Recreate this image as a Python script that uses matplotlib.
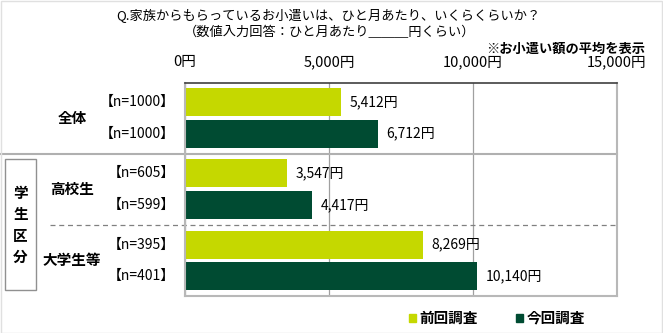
import matplotlib
matplotlib.use("Agg")
import matplotlib.pyplot as plt
import matplotlib.transforms as mtransforms
from matplotlib.patches import Patch, Rectangle
from matplotlib.lines import Line2D

plt.rcParams['font.family'] = ['Noto Sans CJK JP', 'DejaVu Sans']

# data
groups = ["全体", "高校生", "大学生等"]
series = ["前回調査", "今回調査"]
prev_vals = [5412, 3547, 8269]
curr_vals = [6712, 4417, 10140]
prev_n = ["【n=1000】", "【n=605】", "【n=395】"]
curr_n = ["【n=1000】", "【n=599】", "【n=401】"]
xticks = [0, 5000, 10000, 15000]
xtick_labels = ["0円", "5,000円", "10,000円", "15,000円"]

c_prev = "#c5d800"
c_curr = "#004b32"

fig = plt.figure(figsize=(6.63, 3.33), dpi=100)
ax = fig.add_axes([185/663, 1-296/333, 432/663, 213/333])

group_pos = [0, 2.25, 4.5]
h = 0.88
for i, g in enumerate(groups):
    y0 = group_pos[i]
    y1 = y0 + 1
    ax.barh(y0, prev_vals[i], height=h, color=c_prev)
    ax.barh(y1, curr_vals[i], height=h, color=c_curr)
    for y, v in [(y0, prev_vals[i]), (y1, curr_vals[i])]:
        ax.annotate(f"{v:,}円", (v, y), xytext=(6, 0), textcoords="offset points",
                    va="center", ha="left", fontsize=10)

ax.set_xlim(0, 15000)
ax.set_ylim(6.12, -0.6)
ax.set_xticks(xticks)
ax.set_xticklabels(xtick_labels, fontsize=10.5)
ax.xaxis.tick_top()
ax.tick_params(axis="x", length=0, pad=10)
ax.set_yticks([])
ax.grid(axis="x", color="#a0a0a0", lw=0.9)
ax.set_axisbelow(True)
for s in ["left", "right", "bottom"]:
    ax.spines[s].set_color("#b8b8b8")
    ax.spines[s].set_linewidth(1.5)
ax.spines["top"].set_color("#404040")
ax.spines["top"].set_linewidth(1.2)

trans = mtransforms.blended_transform_factory(ax.transAxes, ax.transData)

# n labels and group names
for i, g in enumerate(groups):
    y0 = group_pos[i]
    ax.text(-0.023, y0, prev_n[i], transform=trans, ha="right", va="center", fontsize=10)
    ax.text(-0.023, y0 + 1, curr_n[i], transform=trans, ha="right", va="center", fontsize=10)
    ax.text(-0.262, y0 + 0.5, g, transform=trans, ha="center", va="center",
            fontsize=10.5, fontweight="bold")

# separators
ax.add_line(Line2D([-0.428, 1], [1.625, 1.625], transform=trans, color="#b0b0b0",
                   lw=1.5, clip_on=False))
ax.add_line(Line2D([-0.3125, 1], [3.875, 3.875], transform=trans, color="#808080",
                   lw=0.9, ls=(0, (4, 3)), clip_on=False))

# 学生区分 box
fig.patches.append(Rectangle((5/663, 1-290/333), 31/663, 131/333, transform=fig.transFigure,
                             fill=False, edgecolor="#909090", lw=1.0))
fig.text(20.5/663, 1-225/333, "学\n生\n区\n分", ha="center", va="center",
         fontsize=10.5, fontweight="bold", linespacing=1.4)

# titles
fig.text(328/663, 1-16/333, "Q.家族からもらっているお小遣いは、ひと月あたり、いくらくらいか？",
         ha="center", va="center", fontsize=9.5)
fig.text(330/663, 1-33/333, "（数値入力回答：ひと月あたり＿＿＿円くらい）",
         ha="center", va="center", fontsize=9.5)
fig.text(645/663, 1-49/333, "※お小遣い額の平均を表示", ha="right", va="center",
         fontsize=9.5, fontweight="bold")

handles = [Patch(color=c_prev, label=series[0]), Patch(color=c_curr, label=series[1])]
fig.legend(handles=handles, loc="center", bbox_to_anchor=(497/663, 1-318/333), ncol=2,
           frameon=False, handlelength=0.5, handleheight=0.5, handletextpad=0.25,
           columnspacing=2.6, prop={"size": 10.5, "weight": "bold"})

# light frame around the figure
fig.patches.append(Rectangle((0.001, 0.001), 0.997, 0.997, transform=fig.transFigure,
                             fill=False, edgecolor="#e0e0e0", lw=1.0))

fig.savefig("out.png", dpi=100)
